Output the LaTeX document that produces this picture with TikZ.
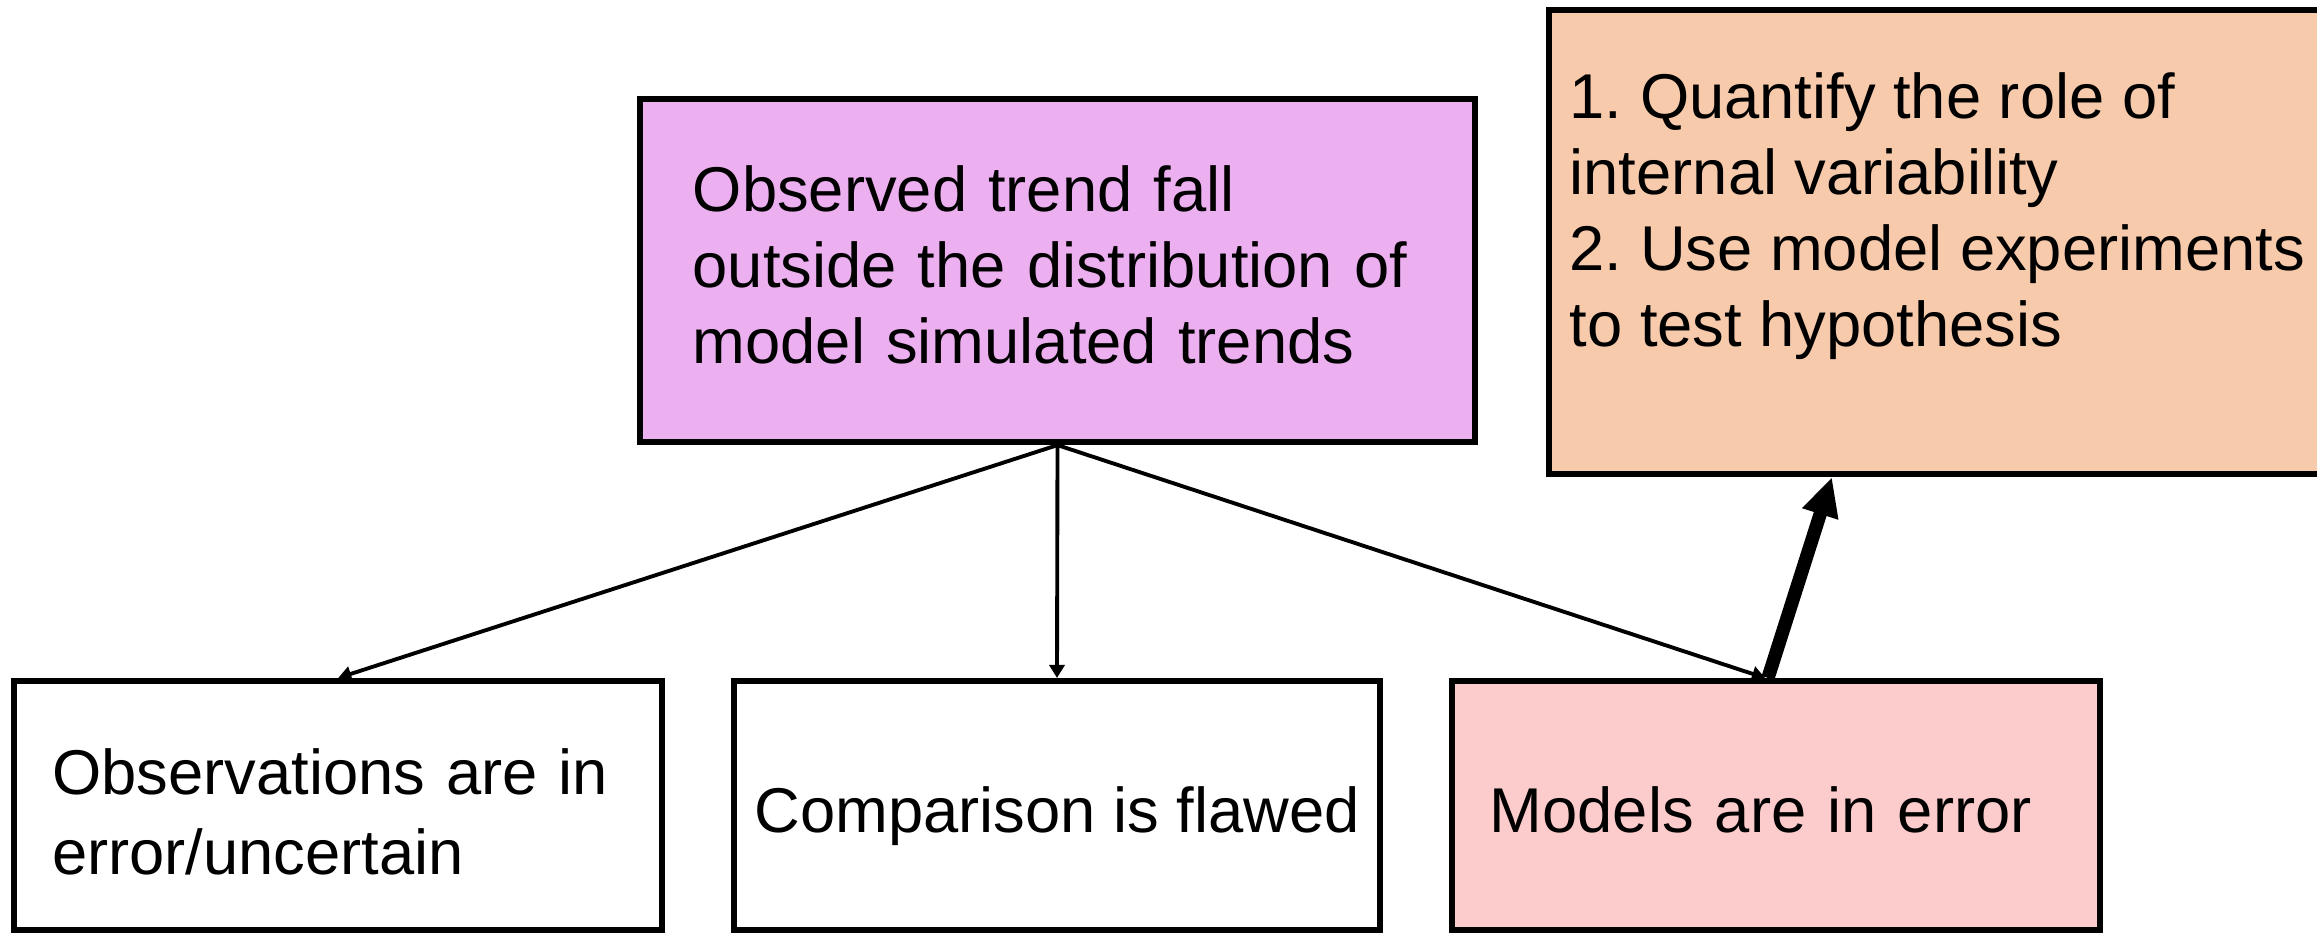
\documentclass[tikz,border=0pt]{standalone}
\usepackage{fontspec}
\setmainfont{Liberation Sans}
\usepackage{xcolor}
\usepackage{tikz}
\usetikzlibrary{arrows.meta,positioning}
\frenchspacing
\definecolor{trendpurple}{RGB}{236,176,240}
\definecolor{actionorange}{RGB}{247,202,172}
\definecolor{errorpink}{RGB}{252,204,204}
\tikzset{
	outcome/.style={draw, line width=1.7pt, inner xsep=0.38cm, align=left, minimum height=2.49cm, font=\fontsize{18}{21.6}\selectfont},
	thin link/.style={line width=1.1pt, -{Triangle[length=3.7pt,width=4.3pt]}},
	thick link/.style={line width=3.8pt, -{Triangle[length=11pt,width=10pt]}}
}
\newcommand{\linkoutcome}[2]{
	\draw[thin link] (#1.south) -- (#2);
}

\begin{document}
\begin{tikzpicture}[x=0.01cm, y=-0.01cm]
			\useasboundingbox (0,0) rectangle (2317,935);
			
			\node[outcome, fill=trendpurple, inner xsep=0.53cm, text width=7.29cm, text depth=46.6pt, minimum width=8.35cm, minimum height=3.43cm] (trend) at (1057.5,270.5)
				{Observed trend fall\\outside the distribution of\\model simulated trends};
			
			\node[outcome, text width=5.715cm, text height=16.5pt, minimum width=6.475cm, font=\fontsize{18}{22.8}\selectfont] (obs) at (338.25,805.5)
				{Observations are in\\error/uncertain}; %left
			\node[outcome, align=center, inner xsep=0.1cm, text height=18.8pt, minimum width=6.46cm] (comp) at (1057,805.5)
				{Comparison is flawed}; %middle
			\node[outcome, fill=errorpink, text width=5.72cm, text height=15.6pt, minimum width=6.48cm] (models) at (1776,805.5)
				{Models are in error}; %right
			
			\node[outcome, fill=actionorange, minimum width=7.91cm, minimum height=4.64cm] (action) at (1944.5,242) {};
			\node[anchor=north west, inner sep=0pt, align=left, font=\fontsize{18}{21.6}\selectfont] (action-text) at (1569,72)
				{1. Quantify the role of\\internal variability\\2. Use model experiments\\to test hypothesis};
			
			\linkoutcome{trend}{obs.north}
			\linkoutcome{trend}{comp.north}
			\linkoutcome{trend}{[xshift=-0.11cm]models.north}
			
			\draw[thick link] ([xshift=-0.08cm]models.north) -- ([xshift=2.86cm]action.south west);
		\end{tikzpicture}
\end{document}
